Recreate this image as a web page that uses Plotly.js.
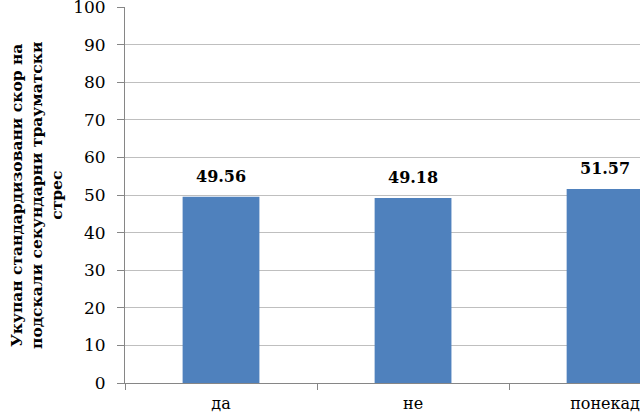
<!DOCTYPE html>
<html>
<head>
<meta charset="utf-8">
<script src="https://cdn.plot.ly/plotly-3.0.1.min.js"></script>
<style>
  html, body { margin: 0; padding: 0; overflow: hidden; background: #fff; }
  #chart { width: 640px; height: 417px; }
</style>
</head>
<body>
<div id="chart"></div>
<script>
// Chart data
const categories = ['да', 'не', 'понекад'];
const scores = [49.56, 49.18, 51.57];
const yTicks = [0, 10, 20, 30, 40, 50, 60, 70, 80, 90, 100];
const yTitle = 'Укупан стандардизовани скор на<br>подскали секундарни трауматски<br>стрес';

// only serif face that resolves in the sandbox
const serif = 'DejaVu Serif';

const trace = {
  type: 'bar',
  x: categories,
  y: scores,
  width: 0.4,
  marker: { color: '#4F81BD' },
  hoverinfo: 'none'
};

// value labels above bars
const labels = categories.map((c, i) => ({
  x: c,
  y: scores[i],
  xref: 'x',
  yref: 'y',
  text: '<b>' + scores[i].toFixed(2) + '</b>',
  showarrow: false,
  yanchor: 'bottom',
  yshift: 9,
  font: { family: serif, size: 16, color: '#000' }
}));

const titleNote = {
  xref: 'paper',
  yref: 'paper',
  x: -0.173,
  y: 0.5,
  xanchor: 'center',
  yanchor: 'middle',
  textangle: -90,
  showarrow: false,
  text: '<b>' + yTitle + '</b>',
  font: { family: serif, size: 15.5, color: '#000' }
};

const layout = {
  width: 640,
  height: 417,
  margin: { l: 125, r: 0, t: 7, b: 34 },
  paper_bgcolor: '#fff',
  plot_bgcolor: '#fff',
  showlegend: false,
  font: { family: serif, color: '#000' },
  xaxis: {
    type: 'category',
    range: [-0.5, 2.182],
    showline: true,
    linecolor: '#868686',
    linewidth: 1,
    ticks: 'outside',
    tickson: 'boundaries',
    ticklen: 6,
    tickcolor: '#868686',
    showgrid: false,
    ticklabelstandoff: 6,
    ticklabeloverflow: 'allow',
    tickfont: { family: serif, size: 16, color: '#000' }
  },
  yaxis: {
    range: [0, 100],
    tickvals: yTicks,
    showline: true,
    linecolor: '#868686',
    linewidth: 1,
    ticks: 'outside',
    ticklen: 7,
    tickcolor: '#868686',
    showgrid: true,
    gridcolor: '#BFBFBF',
    zeroline: false,
    ticklabelstandoff: 8,
    ticklabeloverflow: 'allow',
    tickfont: { family: serif, size: 17, color: '#000' }
  },
  annotations: labels.concat([titleNote])
};

Plotly.newPlot('chart', [trace], layout, { displayModeBar: false, staticPlot: true });
</script>
</body>
</html>
